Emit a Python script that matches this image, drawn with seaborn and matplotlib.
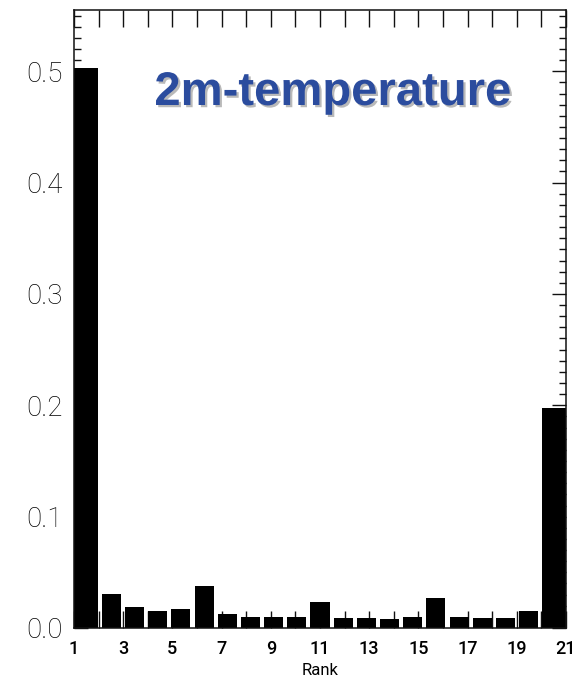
import matplotlib
matplotlib.use("Agg")
import matplotlib.pyplot as plt
import matplotlib.patheffects as pe
from matplotlib.ticker import MultipleLocator, FormatStrFormatter
import seaborn as sns
import pandas as pd

# ---- data ----
ranks = list(range(1, 22))
freq = [0.503, 0.0305, 0.0185, 0.015, 0.0173, 0.0373, 0.0126, 0.0099, 0.0099,
        0.0099, 0.0233, 0.009, 0.009, 0.0077, 0.0099, 0.0266, 0.0099, 0.009,
        0.009, 0.015, 0.198]
xtick_labels = [str(r) for r in ranks if r % 2 == 1]
title = "2m-temperature"
xlabel = "Rank"

sns.set_style("ticks")
plt.rcParams['font.family'] = ['Roboto', 'Liberation Sans', 'DejaVu Sans']
plt.rcParams['text.color'] = 'black'
plt.rcParams['xtick.color'] = 'black'
plt.rcParams['ytick.color'] = 'black'
plt.rcParams['axes.labelcolor'] = 'black'

W, H = 588, 688
fig = plt.figure(figsize=(W / 100, H / 100), dpi=100)
L, R, T, B = 74, 566, 10, 628
ax = fig.add_axes([L / W, 1 - B / H, (R - L) / W, (B - T) / H])

df = pd.DataFrame({"rank": ranks, "freq": freq})
sns.barplot(data=df, x="rank", y="freq", order=ranks, color="black",
            saturation=1, width=0.82, edgecolor="none", linewidth=0, ax=ax)

n = len(ranks)
x0, x1 = -0.608, n - 1 + 0.608
ax.set_xlim(x0, x1)
ax.set_ylim(0, 0.555)

# extend the outer bars to the frame
p = ax.patches[0]
right = p.get_x() + p.get_width()
p.set_x(x0)
p.set_width(right - x0)
p = ax.patches[n - 1]
p.set_width(x1 - p.get_x())


def rpos(r):
    return x0 + (r - ranks[0]) * (x1 - x0) / (ranks[-1] - ranks[0])


ax.set_xticks([rpos(r) for r in ranks if r % 2 == 1])
ax.set_xticklabels(xtick_labels)
ax.set_xticks([rpos(r) for r in ranks if r % 2 == 0], minor=True)

ax.yaxis.set_major_locator(MultipleLocator(0.1))
ax.yaxis.set_minor_locator(MultipleLocator(0.01))
ax.yaxis.set_major_formatter(FormatStrFormatter('%.1f'))

for s in ax.spines.values():
    s.set_visible(True)
    s.set_linewidth(1.1)
    s.set_color("#111111")

ax.tick_params(axis="x", which="both", direction="in", length=12, width=1,
               top=True, bottom=True, color="#111111", labelsize=13, pad=9)
ax.tick_params(axis="y", which="major", direction="in", length=10, width=1,
               left=True, right=True, color="#111111", labelsize=20, pad=8)
ax.tick_params(axis="y", which="minor", direction="in", length=5, width=1,
               left=True, right=True, color="#111111")
for lab in ax.get_yticklabels():
    lab.set_fontweight("light")
for lab in ax.get_xticklabels():
    lab.set_fontweight("medium")

ax.set_xlabel(xlabel, fontsize=12, labelpad=3)
ax.set_ylabel("")

fig.text(333 / W, 1 - 93 / H, title, ha="center", va="center",
         fontsize=34, fontweight="bold", family=["Liberation Sans", "DejaVu Sans"],
         color="#2B4C9E",
         path_effects=[pe.SimplePatchShadow(offset=(1.6, -1.6), shadow_rgbFace="#a8a8a8", alpha=0.8),
                       pe.Normal()])

fig.savefig("out.png", dpi=100, facecolor="white")
